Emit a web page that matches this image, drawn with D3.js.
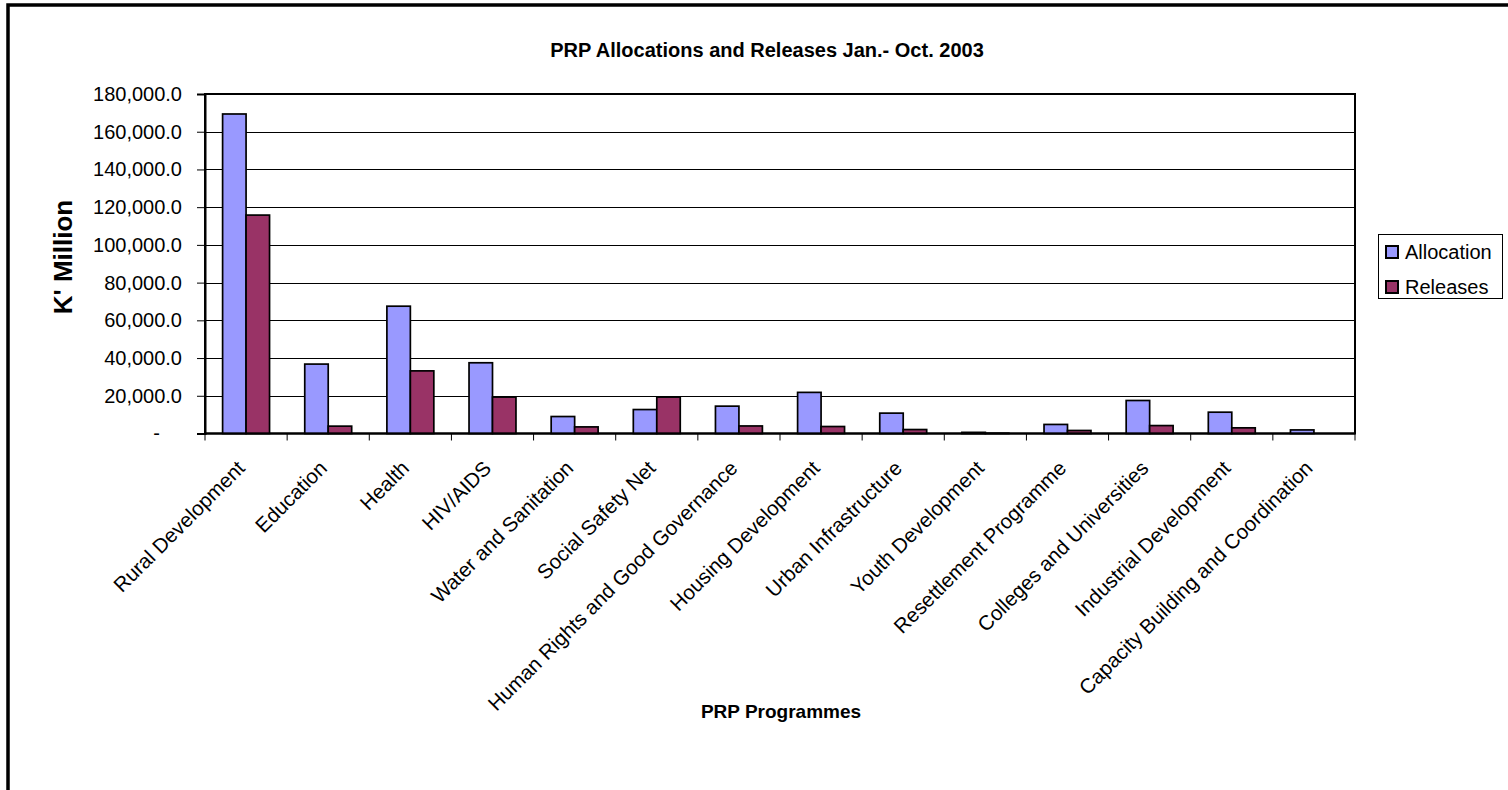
<!DOCTYPE html>
<html>
<head>
<meta charset="utf-8">
<title>PRP Allocations and Releases Jan.- Oct. 2003</title>
<script src="https://cdn.jsdelivr.net/npm/d3@7"></script>
<style>
  html, body { margin: 0; padding: 0; background: #fff; overflow: hidden; }
  svg { display: block; font-family: "Liberation Sans", Arial, sans-serif; }
</style>
</head>
<body>
<svg id="chart" width="1508" height="790"></svg>
<script>
// Programme names along the category axis
const categories = [
  "Rural Development", "Education", "Health", "HIV/AIDS",
  "Water and Sanitation", "Social Safety Net", "Human Rights and Good Governance",
  "Housing Development", "Urban Infrastructure", "Youth Development",
  "Resettlement Programme", "Colleges and Universities", "Industrial Development",
  "Capacity Building and Coordination"
];

// K' Million, January - October 2003
const allocation = [169400, 36800, 67500, 37500, 9000, 12700, 14500, 21800, 10800, 600, 4800, 17500, 11300, 1900];
const releases   = [115800, 3900, 33200, 19300, 3500, 19300, 4000, 3700, 2100, 150, 1600, 4200, 3000, 0];

const seriesNames = ["Allocation", "Releases"];
const seriesColors = ["#9999FF", "#993366"];
const yTicks = [0, 20000, 40000, 60000, 80000, 100000, 120000, 140000, 160000, 180000];

const svg = d3.select("#chart");

// outer chart frame (runs past the right and bottom edges of the view)
svg.append("rect")
  .attr("x", 8).attr("y", 5)
  .attr("width", 1600).attr("height", 900)
  .attr("fill", "#fff")
  .attr("stroke", "#000").attr("stroke-width", 3.5);

const plot = { left: 205, right: 1355, top: 94, bottom: 433.5 };

const x0 = d3.scaleBand().domain(categories).range([plot.left, plot.right]).padding(0);
const x1 = d3.scaleBand().domain(seriesNames).range([0, x0.bandwidth()])
  .paddingInner(0).paddingOuter(0.75);
const y = d3.scaleLinear().domain([0, 180000]).range([plot.bottom, plot.top]);
const color = d3.scaleOrdinal().domain(seriesNames).range(seriesColors);

// horizontal gridlines
svg.append("g")
  .selectAll("line")
  .data(yTicks.slice(1))
  .join("line")
  .attr("x1", plot.left).attr("x2", plot.right)
  .attr("y1", d => Math.round(y(d)) + 0.5).attr("y2", d => Math.round(y(d)) + 0.5)
  .attr("stroke", "#000").attr("stroke-width", 1);

// plot area border
svg.append("rect")
  .attr("x", plot.left).attr("y", plot.top)
  .attr("width", plot.right - plot.left).attr("height", plot.bottom - plot.top)
  .attr("fill", "none").attr("stroke", "#000").attr("stroke-width", 2);

// bars
const rows = categories.map((c, i) => ({ cat: c, values: [
  { key: "Allocation", value: allocation[i] },
  { key: "Releases", value: releases[i] }
]}));

const groups = svg.append("g")
  .selectAll("g")
  .data(rows)
  .join("g")
  .attr("transform", d => `translate(${x0(d.cat)},0)`);

groups.selectAll("rect")
  .data(d => d.values)
  .join("rect")
  .attr("x", d => x1(d.key))
  .attr("width", x1.bandwidth())
  .attr("y", d => y(d.value))
  .attr("height", d => y(0) - y(d.value))
  .attr("fill", d => color(d.key))
  .attr("stroke", "#000")
  .attr("stroke-width", 1.7);

// y axis
const fmt = d3.format(",.1f");
const yAxis = d3.axisLeft(y)
  .tickValues(yTicks)
  .tickSize(8)
  .tickPadding(15)
  .tickFormat(d => d === 0 ? "-" : fmt(d));

const gy = svg.append("g")
  .attr("transform", `translate(${plot.left},0)`)
  .call(yAxis);
gy.select(".domain").attr("stroke", "#000").attr("stroke-width", 2);
gy.selectAll(".tick line").attr("stroke", "#000").attr("stroke-width", 1);
gy.selectAll(".tick text")
  .attr("font-size", 20)
  .attr("fill", "#000")
  .attr("font-family", "'Liberation Sans', Arial, sans-serif");
// accounting-style zero: dash padded by two digit widths
gy.selectAll(".tick text").filter(d => d === 0).attr("dx", -22);

// x axis: ticks on category boundaries
const xAxisG = svg.append("g").attr("transform", `translate(0,${plot.bottom})`);
xAxisG.append("line")
  .attr("x1", plot.left).attr("x2", plot.right)
  .attr("stroke", "#000").attr("stroke-width", 2);
const boundaries = categories.map(c => x0(c)).concat([plot.right]);
xAxisG.selectAll("line.tick")
  .data(boundaries)
  .join("line")
  .attr("class", "tick")
  .attr("x1", d => d).attr("x2", d => d)
  .attr("y1", 0).attr("y2", 7)
  .attr("stroke", "#000").attr("stroke-width", 1);

xAxisG.selectAll("text")
  .data(categories)
  .join("text")
  .attr("transform", d => `translate(${x0(d) + x0.bandwidth() / 2},${36}) rotate(-45)`)
  .attr("text-anchor", "end")
  .attr("font-size", 20.5)
  .attr("fill", "#000")
  .text(d => d);

// titles
svg.append("text")
  .attr("x", 767).attr("y", 57)
  .attr("text-anchor", "middle")
  .attr("font-size", 20).attr("font-weight", "bold")
  .text("PRP Allocations and Releases Jan.- Oct. 2003");

svg.append("text")
  .attr("x", 781).attr("y", 718)
  .attr("text-anchor", "middle")
  .attr("font-size", 19).attr("font-weight", "bold")
  .text("PRP Programmes");

svg.append("text")
  .attr("transform", "translate(72,257) rotate(-90)")
  .attr("text-anchor", "middle")
  .attr("font-size", 26).attr("font-weight", "bold")
  .text("K' Million");

// legend
const legend = svg.append("g");
legend.append("rect")
  .attr("x", 1378.5).attr("y", 234.5)
  .attr("width", 124).attr("height", 64)
  .attr("fill", "#fff").attr("stroke", "#000").attr("stroke-width", 1);

const items = legend.selectAll("g.item")
  .data(seriesNames)
  .join("g")
  .attr("class", "item")
  .attr("transform", (d, i) => `translate(1386,${246 + i * 35})`);
items.append("rect")
  .attr("width", 12).attr("height", 12)
  .attr("fill", d => color(d))
  .attr("stroke", "#000").attr("stroke-width", 2);
items.append("text")
  .attr("x", 19).attr("y", 12.5)
  .attr("font-size", 20)
  .attr("fill", "#000")
  .text(d => d);
</script>
</body>
</html>
